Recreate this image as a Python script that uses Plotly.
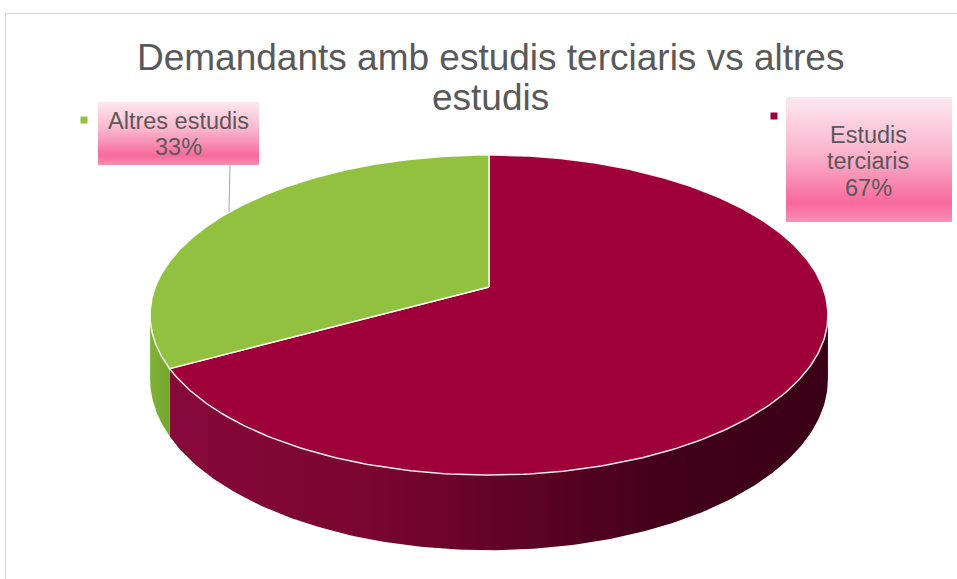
import numpy as np
import plotly.graph_objects as go

# ---- data ----
categories = ["Estudis terciaris", "Altres estudis"]
label_lines = [["Estudis", "terciaris"], ["Altres estudis"]]
values = [67, 33]
top_colors = ["#a0003a", "#92c13f"]
side_scales = [
    [[0, "#86083a"], [0.3, "#7a052e"], [0.55, "#5c0323"], [0.75, "#43001a"], [1, "#3a0016"]],
    [[0, "#7fb236"], [1, "#74a52f"]],
]
title_lines = ["Demandants amb estudis terciaris vs altres", "estudis"]

# ---- geometry (pixel coordinates, simple perspective) ----
W, H = 957, 579
cx = 489
r_p, p_p, q_p, A, D = 0.175, -104.9, 287.0, 333.7, 62.0

def proj(t, level=0.0):
    u, v = np.cos(t), np.sin(t)
    d = 1 + r_p * v
    return cx + A * u / d, (p_p * v + q_p) / d + level * D / d

total = sum(values)
fracs = [v / total for v in values]
angles = []
start = np.pi / 2
for f in fracs:
    end = start - 2 * np.pi * f
    angles.append((start, end))
    start = end

fig = go.Figure()

alpha = np.arcsin(r_p)
vis_lo, vis_hi = -np.pi + alpha, -alpha

def front_part(t_hi, t_lo):
    segs = []
    for shift in (-2 * np.pi, 0, 2 * np.pi):
        lo, hi = t_lo + shift, t_hi + shift
        s0, s1 = max(lo, vis_lo), min(hi, vis_hi)
        if s1 > s0:
            segs.append((s0, s1))
    return segs

for i, (t0, t1) in enumerate(angles):
    for s0, s1 in front_part(t0, t1):
        ts = np.linspace(s0, s1, 160)
        xt, yt = proj(ts)
        xb, yb = proj(ts[::-1], 1.0)
        xs = np.concatenate([xt, xb, xt[:1]])
        ys = np.concatenate([yt, yb, yt[:1]])
        fig.add_trace(go.Scatter(
            x=xs, y=ys, mode="lines", fill="toself",
            line=dict(width=0, color="rgba(0,0,0,0)"),
            fillgradient=dict(type="horizontal", colorscale=side_scales[i],
                              start=float(xs.min()), stop=float(xs.max())),
            hoverinfo="skip", showlegend=False))

ccx, ccy = cx, q_p
for i, (t0, t1) in enumerate(angles):
    ts = np.linspace(t0, t1, 300)
    x, y = proj(ts)
    xs = np.concatenate([[ccx], x, [ccx]])
    ys = np.concatenate([[ccy], y, [ccy]])
    fig.add_trace(go.Scatter(
        x=xs, y=ys, mode="lines", fill="toself", fillcolor=top_colors[i],
        line=dict(width=1.5, color="rgba(255,255,255,0.9)"),
        hoverinfo="skip", showlegend=False))

box_scale = [[0, "#fde8f0"], [0.45, "#fbb3cc"], [0.85, "#f76a9c"], [1, "#f98fb4"]]
boxes = [(786, 97, 952, 222), (98, 102, 259, 165)]
for (x0, y0, x1, y1) in boxes:
    fig.add_trace(go.Scatter(
        x=[x0, x1, x1, x0, x0], y=[y0, y0, y1, y1, y0], mode="lines", fill="toself",
        line=dict(width=0, color="rgba(0,0,0,0)"),
        fillgradient=dict(type="vertical", colorscale=box_scale, start=y0, stop=y1),
        hoverinfo="skip", showlegend=False))

keys = [(774, 116), (84, 120)]
for i, (kx, ky) in enumerate(keys):
    fig.add_trace(go.Scatter(x=[kx], y=[ky], mode="markers",
                             marker=dict(symbol="square", size=7, color=top_colors[i]),
                             hoverinfo="skip", showlegend=False))

fig.add_trace(go.Scatter(x=[230, 229], y=[165, 212], mode="lines",
                         line=dict(color="#a6a6a6", width=1),
                         hoverinfo="skip", showlegend=False))

lab_font = dict(family="Liberation Sans, Arial", size=23.5, color="#595959")
lab_pos = [(868, [135, 161, 188]), (178, [121, 147])]
for i in range(len(values)):
    lx, ys = lab_pos[i]
    lines = label_lines[i] + [f"{round(fracs[i]*100)}%"]
    for ln, yy in zip(lines, ys):
        fig.add_annotation(x=lx, y=yy, text=ln, showarrow=False, font=lab_font,
                           xanchor="center", yanchor="middle")

for ln, yy in zip(title_lines, [57, 97]):
    fig.add_annotation(x=490, y=yy, text=ln, showarrow=False,
                       font=dict(family="Liberation Sans, Arial", size=37, color="#595959"),
                       xanchor="center", yanchor="middle")

fig.add_shape(type="rect", x0=5.5, y0=13.5, x1=980, y1=600,
              line=dict(color="#d9d9d9", width=1))

fig.update_layout(
    width=W, height=H, margin=dict(l=0, r=0, t=0, b=0),
    paper_bgcolor="white", plot_bgcolor="white",
    xaxis=dict(range=[0, W], visible=False, fixedrange=True),
    yaxis=dict(range=[H, 0], visible=False, fixedrange=True),
    showlegend=False,
)
fig.write_html("out.html", config={"displayModeBar": False},
               post_script="document.body.style.margin='0px';")
